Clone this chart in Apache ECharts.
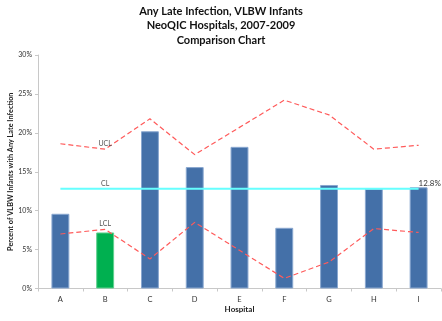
<!DOCTYPE html>
<html>
<head>
<meta charset="utf-8">
<script src="https://cdn.jsdelivr.net/npm/echarts@6/dist/echarts.min.js"></script>
<style>
  html, body { margin: 0; padding: 0; background: #fff; }
  #chart { width: 442px; height: 321px; }
</style>
</head>
<body>
<div id="chart"></div>
<script>
// Late infection rates per hospital with control limits
const hospitals = ['A', 'B', 'C', 'D', 'E', 'F', 'G', 'H', 'I'];
const rates = [9.6, 7.2, 20.2, 15.6, 18.2, 7.8, 13.3, 12.8, 13.0];
const ucl = [18.6, 17.9, 21.8, 17.2, 20.7, 24.2, 22.3, 17.9, 18.4];
const lcl = [7.0, 7.6, 3.8, 8.5, 4.9, 1.3, 3.4, 7.7, 7.2];
const centerLine = 12.8;
const highlighted = 'B';
const yTicks = [0, 5, 10, 15, 20, 25, 30];

const FONT = 'Lato, Open Sans, sans-serif';
const BLUE = '#4470a8';
const GREEN = '#00b050';
const RED = '#ff5a5a';
const CYAN = '#66ffff';

function tagLabel(text) {
  return { show: true, position: 'top', distance: 2, formatter: text,
    fontSize: 7, color: '#555', fontFamily: FONT };
}

function limitData(values, tag) {
  return values.map((v, i) => (i === 1 ? { value: v, label: tagLabel(tag) } : v));
}

const clData = hospitals.map((h, i) => {
  const item = { value: centerLine };
  if (i === 1) item.label = tagLabel('CL');
  if (i === hospitals.length - 1) {
    item.label = { show: true, position: 'top', distance: 1, align: 'left', offset: [0, 0],
      formatter: centerLine.toFixed(1) + '%', fontSize: 8, color: '#333', fontFamily: FONT };
  }
  return item;
});

const lineCommon = { symbol: 'circle', symbolSize: 0, showSymbol: true, label: { show: false } };

const chart = echarts.init(document.getElementById('chart'), null, { renderer: 'canvas' });
chart.setOption({
  animation: false,
  title: {
    text: 'Any Late Infection, VLBW Infants\nNeoQIC Hospitals, 2007-2009\nComparison Chart',
    left: 'center', top: 4, padding: 0,
    textStyle: { fontFamily: FONT, fontWeight: 'bold', fontSize: 11, lineHeight: 14.5, color: '#111' }
  },
  grid: { left: 38, right: 1, top: 55, bottom: 32.5, containLabel: false, outerBoundsMode: 'none' },
  xAxis: {
    type: 'category',
    data: hospitals,
    name: 'Hospital',
    nameLocation: 'middle',
    nameGap: 17,
    nameMoveOverlap: false,
    nameTextStyle: { fontFamily: FONT, fontWeight: 'bold', fontSize: 8, color: '#222' },
    axisLine: { lineStyle: { color: '#c8c8c8', width: 1 } },
    axisTick: { show: true, alignWithLabel: false, length: 3, lineStyle: { color: '#c8c8c8' } },
    axisLabel: { fontFamily: FONT, fontSize: 7.5, color: '#333', margin: 7 }
  },
  yAxis: {
    type: 'value',
    min: 0, max: 30, interval: 5,
    name: 'Percent of VLBW Infants with Any Late Infection',
    nameLocation: 'middle',
    nameGap: 24,
    nameMoveOverlap: false,
    nameTextStyle: { fontFamily: FONT, fontWeight: 'bold', fontSize: 7.3, color: '#222' },
    axisLine: { show: true, lineStyle: { color: '#c8c8c8', width: 1 } },
    axisTick: { show: true, length: 3, lineStyle: { color: '#c8c8c8' } },
    splitLine: { show: false },
    axisLabel: {
      fontFamily: FONT, fontSize: 7, color: '#333', margin: 6,
      formatter: v => (yTicks.includes(v) ? v + '%' : '')
    }
  },
  series: [
    {
      type: 'bar',
      name: 'Rate',
      barWidth: '40%',
      data: rates.map((v, i) => ({
        value: v,
        itemStyle: {
          color: hospitals[i] === highlighted ? GREEN : BLUE,
          borderColor: hospitals[i] === highlighted ? '#5fd08e' : '#8aa8d0',
          borderWidth: 1
        }
      })),
      z: 2
    },
    Object.assign({
      type: 'line', name: 'UCL', data: limitData(ucl, 'UCL'),
      lineStyle: { color: RED, width: 1.2, type: [5, 3] }, z: 3
    }, lineCommon),
    Object.assign({
      type: 'line', name: 'LCL', data: limitData(lcl, 'LCL'),
      lineStyle: { color: RED, width: 1.2, type: [5, 3] }, z: 3
    }, lineCommon),
    Object.assign({
      type: 'line', name: 'CL', data: clData,
      lineStyle: { color: CYAN, width: 2 }, z: 4
    }, lineCommon)
  ]
});
</script>
</body>
</html>
